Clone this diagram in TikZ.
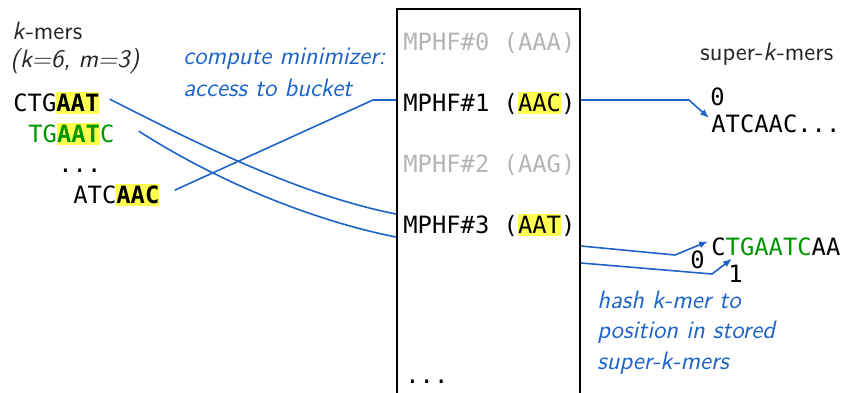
\documentclass[tikz,border=0pt]{standalone}
\usepackage{fontspec}
\setmonofont{DejaVu Sans Mono}
\usetikzlibrary{arrows.meta,calc}
\definecolor{lnblue}{RGB}{30,100,200}
\definecolor{kgreen}{RGB}{0,150,0}
\definecolor{hly}{RGB}{255,255,80}
\definecolor{mgray}{RGB}{180,180,180}
\newcommand{\hlt}[1]{{\setlength{\fboxsep}{0pt}\colorbox{hly}{\rule[-0.12em]{0pt}{0.9em}#1}}}
\begin{document}
\begin{tikzpicture}[x=0.5pt,y=-0.5pt,
  lbl/.style={anchor=base west,inner sep=0pt,font=\sffamily\fontsize{12.6}{15}\selectfont,text=black!85},
  note/.style={anchor=base west,inner sep=0pt,font=\sffamily\itshape\fontsize{12.6}{15}\selectfont,text=lnblue},
  seq/.style={anchor=base west,inner sep=0pt,font=\ttfamily\fontsize{11.9}{14}\selectfont},
  dim/.style={seq,text=mgray},
  conn/.style={draw=lnblue,line width=0.8pt},
  arr/.style={conn,-{Latex[length=4.5pt,width=3.5pt]}}
]
\path[use as bounding box] (0,0) rectangle (844,392);
% left labels
\node[lbl] (km1) at (12,39) {\textit{k}-mers};
\node[lbl] (km2) at (10,67) {\itshape (k=6, m=3)};
\node[seq] (s1) at (13,111) {CTG\hlt{\bfseries AAT}};
\node[seq] (s2) at (28,142) {\textcolor{kgreen}{TG\hlt{\bfseries AAT}C}};
\node[seq] (s3) at (58,172) {...};
\node[seq] (s4) at (73,203) {ATC\hlt{\bfseries AAC}};
% notes
\node[note] (cm1) at (183,64) {compute minimizer:};
\node[note] (cm2) at (183,96) {access to bucket};
% box
\node[draw,line width=1pt,anchor=north west,inner sep=0pt,minimum width=91.5pt,minimum height=200pt] (box) at (396,8) {};
\node[dim] (r0) at (403,50) {MPHF\#0 (AAA)};
\node[seq] (r1) at (403,111) {MPHF\#1 (\hlt{AAC})};
\node[dim] (r2) at (403,172) {MPHF\#2 (AAG)};
\node[seq] (r3) at (403,233) {MPHF\#3 (\hlt{AAT})};
\node[seq] (r4) at (405,383) {...};
% right
\node[lbl] (sk) at (700,60) {super-\textit{k}-mers};
\node[seq] (z1) at (710,105) {0};
\node[seq] (a1) at (711,132) {ATCAAC...};
\node[seq] (a2) at (711,255) {C\textcolor{kgreen}{TGAATC}AA};
\node[seq] (z2) at (690,268) {0};
\node[seq] (o2) at (728,282) {1};
\node[note] (hs1) at (597,308) {hash k-mer to};
\node[note] (hs2) at (597,338) {position in stored};
\node[note] (hs3) at (597,369) {super-k-mers};
% coordinates
\coordinate (b1) at ($(box.north west)+(0,206)$);
\coordinate (b2) at ($(box.north west)+(0,229)$);
\coordinate (b3) at ($(box.north west)+(0,92)$);
\coordinate (bk) at (373,100);
\coordinate (c1) at ($(box.north east)+(0,92)$);
\coordinate (c1k) at (689,100);
\coordinate (c2) at ($(box.north east)+(0,238)$);
\coordinate (c2k) at (675,255);
\coordinate (c3) at ($(box.north east)+(0,255)$);
\coordinate (c3k) at (712,274);
% connectors
\draw[conn] ($(s1.east)+(10,-4)$) .. controls (200,145) and (300,195) .. (b1);
\draw[conn] ($(s2.east)+(24,-3)$) .. controls (215,180) and (310,220) .. (b2);
\draw[conn] ($(s4.east)+(15,-5)$) -- (bk) -- (b3);
\draw[arr] (c1) -- (c1k) -- ($(a1.north west)+(-2,4)$);
\draw[arr] (c2) -- (c2k) -- ($(a2.west)+(-3,-5)$);
\draw[arr] (c3) -- (c3k) -- ($(a2.south west)+(21,3)$);
\end{tikzpicture}
\end{document}
